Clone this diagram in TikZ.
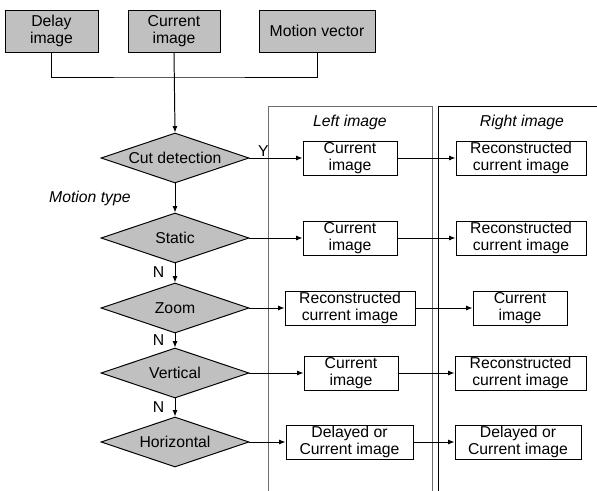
\documentclass[tikz,border=0pt]{standalone}
\usepackage{fontspec}
\setmainfont{Liberation Sans}
\usepackage{tikz}
\usetikzlibrary{arrows.meta,shapes.geometric}
\definecolor{BoxGray}{HTML}{C0C0C0}
\definecolor{PanelGray}{HTML}{6E6E6E}

\tikzset{
    srcbox/.style={draw, fill=BoxGray, align=center, inner sep=0pt, minimum height=42*0.025cm},
    decide/.style={diamond, draw, fill=BoxGray, aspect=3, inner sep=0pt, minimum width=148*0.025cm, minimum height=50*0.025cm},
    imgbox/.style={draw, fill=white, align=center, inner sep=0pt, minimum height=34*0.025cm},
    flow/.style={-{Latex[length=4.5pt,width=3.5pt]}},
}

\begin{document}
\begin{tikzpicture}[x=0.025cm, y=-0.025cm, line width=0.7pt, font=\fontsize{11.2}{12.2}\selectfont]
        \useasboundingbox (0,0) rectangle (597,491);

        % left / right image columns
        \draw[PanelGray] (268,491) -- (268,106) -- (432,106) -- (432,491);
        \draw (438,491) -- (438,106) -- (597,106);
        \node[font=\fontsize{11.2}{12.2}\itshape] (lefttitle) at (350,122) {Left image};
        \node[font=\fontsize{11.2}{12.2}\itshape] (righttitle) at (522,122) {Right image};

        % inputs
        \node[srcbox, minimum width=93*0.025cm] (delay) at (51.5,31) {Delay\\image};
        \node[srcbox, minimum width=92*0.025cm] (current) at (174,31) {Current\\image};
        \node[srcbox, minimum width=116*0.025cm] (motion) at (317,31) {Motion vector};
        \coordinate (bus) at (174,77);
        \draw (delay.south) |- (bus) -| (motion.south);

        % decisions
        \foreach \n/\y/\txt in {cut/158/Cut detection, static/238/Static, zoom/308/Zoom, vert/373/Vertical, horiz/442/Horizontal}
            \node[decide] (\n) at (175,\y) {\txt};
        \node[anchor=west, font=\fontsize{11.2}{12.2}\itshape] (mtype) at (44,198) {Motion type};

        \draw[flow] (current.south) -- (cut.north);
        \draw[flow] (cut.south) -- (static.north);
        \foreach \a/\b in {static/zoom, zoom/vert, vert/horiz}
            \draw[flow] (\a.south) -- node[pos=0.45, left, xshift=-4pt] {N} (\b.north);

        % left image
        \node[imgbox, minimum width=94*0.025cm] (l1) at (350,158) {Current\\image};
        \node[imgbox, minimum width=94*0.025cm] (l2) at (350,238) {Current\\image};
        \node[imgbox, minimum width=130*0.025cm] (l3) at (350,308) {Reconstructed\\current image};
        \node[imgbox, minimum width=94*0.025cm] (l4) at (351,373) {Current\\image};
        \node[imgbox, minimum width=127*0.025cm] (l5) at (349.5,442) {Delayed or\\Current image};

        % right image
        \node[imgbox, minimum width=130*0.025cm] (r1) at (521,158) {Reconstructed\\current image};
        \node[imgbox, minimum width=130*0.025cm] (r2) at (521,238) {Reconstructed\\current image};
        \node[imgbox, minimum width=94*0.025cm] (r3) at (520,308) {Current\\image};
        \node[imgbox, minimum width=131*0.025cm] (r4) at (520.5,373) {Reconstructed\\current image};
        \node[imgbox, minimum width=126*0.025cm] (r5) at (518,442) {Delayed or\\Current image};

        \draw[flow] (cut.east) -- node[pos=0.26, above, inner sep=1pt] {Y} (l1.west);
        \foreach \a/\b in {static/l2, zoom/l3, vert/l4, horiz/l5, l1/r1, l2/r2, l3/r3, l4/r4, l5/r5}
            \draw[flow] (\a.east) -- (\b.west);
    \end{tikzpicture}
\end{document}
